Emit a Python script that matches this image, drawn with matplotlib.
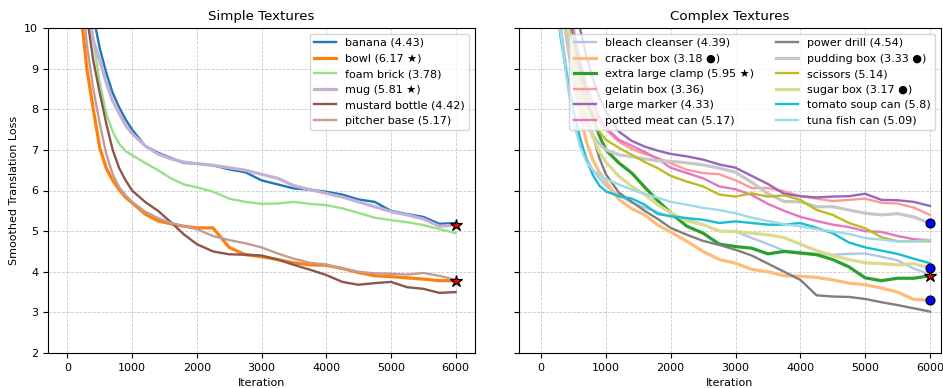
import matplotlib
matplotlib.use("Agg")
import matplotlib.pyplot as plt

OUT_PATH = "out.png"

ITERATIONS = [0, 100, 200, 300, 400, 500, 600, 700, 800, 900, 1000,
              1200, 1400, 1600, 1800, 2000, 2250, 2500, 2750, 3000, 3250,
              3500, 3750, 4000, 4250, 4500, 4750, 5000, 5250, 5500, 5750, 6000]

# simple textures
banana = [16.0, 14.5, 13.0, 11.5, 10.3, 9.5, 8.9, 8.4, 8.05, 7.75, 7.5,
          7.1, 6.93, 6.8, 6.68, 6.66, 6.62, 6.52, 6.45, 6.25, 6.15,
          6.05, 6.02, 5.97, 5.9, 5.78, 5.72, 5.5, 5.42, 5.35, 5.18, 5.2]
bowl = [15.0, 12.8, 10.5, 9.0, 8.0, 7.05, 6.55, 6.25, 6.02, 5.83, 5.7,
        5.42, 5.25, 5.18, 5.12, 5.08, 5.08, 4.6, 4.42, 4.37, 4.3,
        4.22, 4.17, 4.16, 4.08, 3.98, 3.9, 3.88, 3.85, 3.82, 3.78, 3.78]
foam_brick = [17.0, 15.0, 13.0, 11.0, 9.7, 8.65, 7.9, 7.45, 7.15, 6.97, 6.87,
              6.68, 6.5, 6.3, 6.15, 6.08, 5.97, 5.8, 5.72, 5.67, 5.68,
              5.72, 5.67, 5.64, 5.56, 5.45, 5.33, 5.27, 5.22, 5.15, 5.05, 4.95]
mug = [16.0, 14.2, 12.5, 10.7, 9.7, 9.2, 8.65, 8.2, 7.9, 7.6, 7.4,
       7.1, 6.9, 6.78, 6.7, 6.66, 6.62, 6.56, 6.5, 6.4, 6.3,
       6.12, 6.02, 5.93, 5.84, 5.72, 5.6, 5.48, 5.4, 5.3, 5.12, 5.15]
mustard_bottle = [16.0, 14.0, 12.0, 10.3, 9.2, 8.4, 7.65, 7.0, 6.55, 6.25, 6.0,
                  5.72, 5.5, 5.22, 4.92, 4.68, 4.5, 4.43, 4.42, 4.4, 4.3,
                  4.17, 4.05, 3.92, 3.75, 3.68, 3.72, 3.75, 3.62, 3.58, 3.48, 3.5]
pitcher_base = [15.5, 13.5, 11.2, 9.6, 8.5, 7.65, 6.9, 6.4, 6.08, 5.88, 5.72,
                5.48, 5.32, 5.2, 5.12, 5.05, 4.88, 4.78, 4.7, 4.6, 4.45,
                4.32, 4.22, 4.18, 4.08, 4.0, 3.96, 3.95, 3.93, 3.97, 3.9, 3.8]

# complex textures
bleach_cleanser = [16.0, 14.0, 12.0, 10.1, 8.9, 8.0, 7.3, 6.8, 6.5, 6.3, 6.12,
                   5.88, 5.7, 5.58, 5.47, 5.35, 5.3, 5.16, 5.0, 4.99, 4.83,
                   4.68, 4.52, 4.48, 4.44, 4.42, 4.44, 4.45, 4.37, 4.28, 4.08, 3.93]
cracker_box = [16.5, 14.5, 12.6, 10.8, 9.7, 8.7, 7.9, 7.2, 6.75, 6.45, 6.22,
               5.78, 5.55, 5.4, 5.15, 4.98, 4.75, 4.5, 4.3, 4.21, 4.06,
               4.0, 3.9, 3.89, 3.86, 3.8, 3.72, 3.68, 3.6, 3.5, 3.32, 3.3]
extra_large_clamp = [17.5, 15.5, 13.5, 12.0, 10.8, 9.8, 9.0, 8.35, 7.8, 7.35, 7.0,
                     6.68, 6.43, 6.08, 5.75, 5.45, 5.12, 4.95, 4.68, 4.62, 4.58,
                     4.44, 4.5, 4.46, 4.42, 4.3, 4.12, 3.85, 3.78, 3.84, 3.84, 3.9]
gelatin_box = [17.0, 15.0, 13.2, 11.6, 10.4, 9.5, 8.8, 8.3, 7.95, 7.7, 7.5,
               7.2, 7.02, 6.9, 6.8, 6.67, 6.51, 6.43, 6.4, 6.25, 6.06,
               6.06, 5.98, 5.86, 5.8, 5.74, 5.77, 5.8, 5.7, 5.68, 5.58, 5.4]
large_marker = [19.0, 17.0, 15.0, 13.3, 11.8, 10.7, 10.0, 9.3, 8.75, 8.3, 7.95,
                7.45, 7.22, 7.08, 6.98, 6.9, 6.84, 6.76, 6.64, 6.56, 6.36,
                6.16, 5.92, 5.86, 5.83, 5.85, 5.86, 5.92, 5.77, 5.76, 5.72, 5.62]
potted_meat_can = [18.0, 16.0, 14.0, 12.4, 11.0, 10.0, 9.2, 8.6, 8.15, 7.8, 7.55,
                   7.25, 7.1, 6.95, 6.78, 6.56, 6.43, 6.3, 6.1, 6.03, 5.89,
                   5.67, 5.5, 5.35, 5.25, 5.16, 5.1, 5.0, 4.98, 4.88, 4.8, 4.78]
power_drill = [17.0, 15.0, 13.0, 11.5, 10.4, 9.2, 8.4, 7.85, 7.35, 6.8, 6.4,
               5.95, 5.72, 5.5, 5.3, 5.08, 4.91, 4.76, 4.66, 4.54, 4.4,
               4.2, 4.0, 3.8, 3.42, 3.39, 3.38, 3.33, 3.25, 3.18, 3.1, 3.02]
pudding_box = [16.5, 14.5, 12.6, 10.8, 9.7, 8.8, 8.1, 7.65, 7.35, 7.15, 7.0,
               6.88, 6.83, 6.78, 6.73, 6.72, 6.68, 6.63, 6.55, 6.45, 6.2,
               5.92, 5.73, 5.72, 5.6, 5.6, 5.52, 5.44, 5.4, 5.43, 5.35, 5.19]
scissors = [17.0, 15.0, 13.0, 11.4, 10.2, 9.3, 8.6, 8.1, 7.72, 7.45, 7.25,
            7.05, 6.88, 6.7, 6.55, 6.36, 6.22, 6.1, 5.9, 5.85, 5.93,
            5.85, 5.88, 5.77, 5.52, 5.4, 5.2, 5.07, 4.85, 4.75, 4.75, 4.75]
sugar_box = [17.0, 15.0, 13.0, 11.4, 10.2, 9.2, 8.4, 7.8, 7.3, 6.95, 6.7,
             6.35, 6.1, 5.9, 5.65, 5.45, 5.25, 5.16, 5.0, 4.99, 4.95,
             4.91, 4.84, 4.68, 4.52, 4.4, 4.3, 4.22, 4.2, 4.17, 4.2, 4.09]
tomato_soup_can = [15.0, 13.3, 11.4, 9.8, 8.8, 8.0, 7.3, 6.75, 6.38, 6.12, 5.98,
                   5.86, 5.8, 5.65, 5.42, 5.37, 5.32, 5.28, 5.2, 5.24, 5.2,
                   5.16, 5.16, 5.2, 5.08, 4.95, 4.72, 4.6, 4.52, 4.44, 4.32, 4.21]
tuna_fish_can = [15.5, 13.6, 11.6, 9.9, 8.7, 7.7, 7.1, 6.7, 6.5, 6.38, 6.28,
                 6.15, 6.02, 5.92, 5.82, 5.72, 5.65, 5.57, 5.52, 5.44, 5.33,
                 5.25, 5.17, 5.12, 5.05, 4.99, 4.93, 4.83, 4.79, 4.75, 4.75, 4.78]

SIMPLE_NAMES = ["banana", "bowl", "foam brick", "mug", "mustard bottle", "pitcher base"]
SIMPLE_SCORES = ["4.43", "6.17", "3.78", "5.81", "4.42", "5.17"]
SIMPLE_MARKS = ["", "star", "", "star", "", ""]
SIMPLE_SERIES = [banana, bowl, foam_brick, mug, mustard_bottle, pitcher_base]
SIMPLE_COLORS = ["#1f77b4", "#ff7f0e", "#98df8a", "#c5b0d5", "#8c564b", "#c49c94"]

COMPLEX_NAMES = ["bleach cleanser", "cracker box", "extra large clamp", "gelatin box",
                 "large marker", "potted meat can", "power drill", "pudding box",
                 "scissors", "sugar box", "tomato soup can", "tuna fish can"]
COMPLEX_SCORES = ["4.39", "3.18", "5.95", "3.36", "4.33", "5.17",
                  "4.54", "3.33", "5.14", "3.17", "5.8", "5.09"]
COMPLEX_MARKS = ["", "dot", "star", "", "", "", "", "dot", "", "dot", "", ""]
COMPLEX_SERIES = [bleach_cleanser, cracker_box, extra_large_clamp, gelatin_box,
                  large_marker, potted_meat_can, power_drill, pudding_box,
                  scissors, sugar_box, tomato_soup_can, tuna_fish_can]
COMPLEX_COLORS = ["#aec7e8", "#ffbb78", "#2ca02c", "#ff9896", "#9467bd", "#e377c2",
                  "#7f7f7f", "#c7c7c7", "#bcbd22", "#dbdb8d", "#17becf", "#9edae5"]

MARK_TEXT = {"": "", "star": " \u2605", "dot": " \u25cf"}


def draw_panel(ax, names, scores, marks, series, colors, title):
    for name, score, mark, values, color in zip(names, scores, marks, series, colors):
        lw = 2.3 if mark else 1.7
        label = f"{name} ({score}{MARK_TEXT[mark]})"
        ax.plot(ITERATIONS, values, color=color, lw=lw, label=label)
    # end-of-run markers for highlighted objects
    for mark, values in zip(marks, series):
        if mark == "star":
            ax.plot(ITERATIONS[-1], values[-1], marker="*", ms=9, mfc="red",
                    mec="black", mew=0.9, zorder=5)
        elif mark == "dot":
            ax.plot(ITERATIONS[-1], values[-1], marker="o", ms=6.5, mfc="blue",
                    mec="black", mew=0.8, zorder=5)
    ax.set_title(title, fontsize=9.6)
    ax.set_xlabel("Iteration", fontsize=8)
    ax.set_ylim(2, 10)
    ax.set_xticks(range(0, 6001, 1000))
    ax.set_yticks(range(2, 11))
    ax.tick_params(labelsize=8)
    ax.grid(True, linestyle="--", linewidth=0.6, color="#bbbbbb", alpha=0.8)


def main():
    fig = plt.figure(figsize=(9.43, 3.88), dpi=100)
    ax1 = fig.add_axes([48 / 943, 35 / 388, 427 / 943, 325 / 388])
    ax2 = fig.add_axes([519 / 943, 35 / 388, 422 / 943, 325 / 388], sharey=ax1)

    draw_panel(ax1, SIMPLE_NAMES, SIMPLE_SCORES, SIMPLE_MARKS, SIMPLE_SERIES,
               SIMPLE_COLORS, "Simple Textures")
    draw_panel(ax2, COMPLEX_NAMES, COMPLEX_SCORES, COMPLEX_MARKS, COMPLEX_SERIES,
               COMPLEX_COLORS, "Complex Textures")

    ax1.set_xlim(-300, 6300)
    ax2.set_xlim(-340, 6170)
    ax1.set_ylabel("Smoothed Translation Loss", fontsize=8)
    ax2.tick_params(labelleft=False)

    ax1.legend(loc="upper right", fontsize=8)
    ax2.legend(loc="upper right", fontsize=8, ncol=2)

    fig.savefig(OUT_PATH, dpi=100)
    plt.close(fig)


if __name__ == "__main__":
    main()
